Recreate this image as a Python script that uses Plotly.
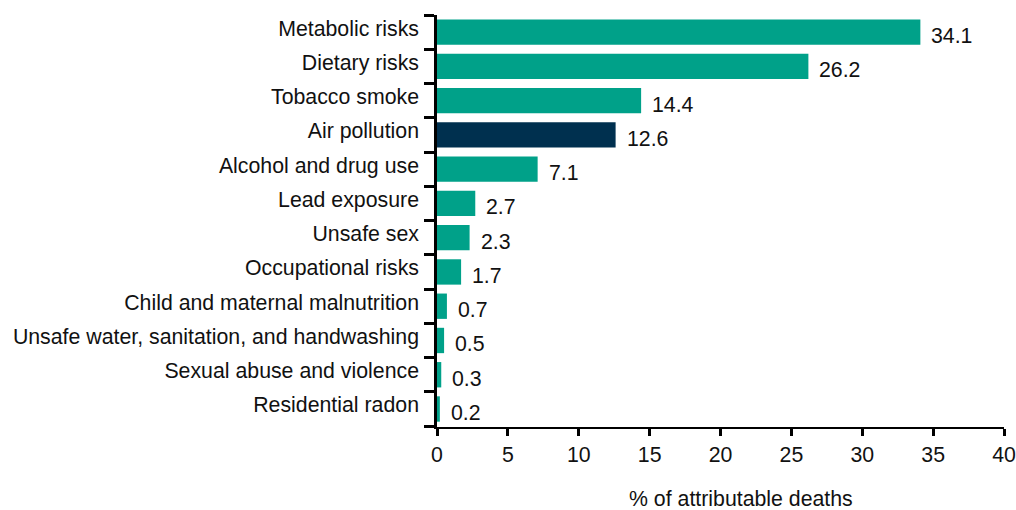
import plotly.graph_objects as go

categories = ["Metabolic risks", "Dietary risks", "Tobacco smoke", "Air pollution",
              "Alcohol and drug use", "Lead exposure", "Unsafe sex", "Occupational risks",
              "Child and maternal malnutrition", "Unsafe water, sanitation, and handwashing",
              "Sexual abuse and violence", "Residential radon"]
values = [34.1, 26.2, 14.4, 12.6, 7.1, 2.7, 2.3, 1.7, 0.7, 0.5, 0.3, 0.2]
highlight = "Air pollution"
x_ticks = [0, 5, 10, 15, 20, 25, 30, 35, 40]

TEAL = "#00A189"
NAVY = "#00304F"
FONT = "Liberation Sans, Arial, sans-serif"
FS = 21.3

cats_plot = categories[::-1]
vals_plot = values[::-1]
colors = [NAVY if c == highlight else TEAL for c in cats_plot]

fig = go.Figure(go.Bar(
    x=vals_plot, y=cats_plot, orientation="h",
    marker=dict(color=colors, line=dict(width=0)),
    width=0.74,
))

for c, v in zip(cats_plot, vals_plot):
    fig.add_annotation(x=v, y=c, text=f"{v:.1f}", showarrow=False,
                       xanchor="left", xshift=9, yshift=-4,
                       font=dict(size=FS, color="#111", family=FONT))

fig.add_annotation(x=0.536, y=0, xref="paper", yref="paper", yshift=-58,
                   text="% of attributable deaths", showarrow=False,
                   xanchor="center", yanchor="top",
                   font=dict(size=FS, color="#111", family=FONT))

fig.update_layout(
    width=1016, height=510,
    margin=dict(l=437, r=12, t=15, b=83),
    plot_bgcolor="white", paper_bgcolor="white",
    showlegend=False,
    font=dict(family=FONT, size=FS, color="#111"),
)
fig.update_xaxes(range=[0, 40], tickvals=x_ticks, showgrid=False, zeroline=False,
                 showline=True, linecolor="black", linewidth=2,
                 ticks="outside", ticklen=7, tickwidth=3, tickcolor="black",
                 automargin=False,
                 tickfont=dict(size=FS, family=FONT, color="#111"))
fig.update_yaxes(showgrid=False, zeroline=False,
                 showline=True, linecolor="black", linewidth=2.5,
                 ticks="outside", ticklen=10, tickwidth=3, tickcolor="black",
                 tickson="boundaries", ticklabelstandoff=11, ticklabelshift=-4,
                 automargin=False,
                 tickfont=dict(size=FS, family=FONT, color="#111"))

fig.write_html("out.html", config={"displayModeBar": False},
               post_script="document.body.style.margin='0';document.body.style.padding='0';")
